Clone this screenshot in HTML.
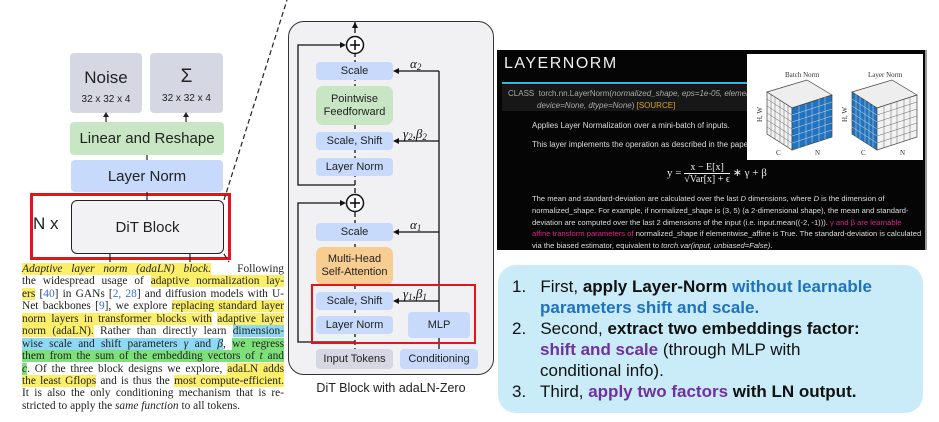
<!DOCTYPE html>
<html><head><meta charset="utf-8"><style>
*{margin:0;padding:0;box-sizing:border-box}
body{width:939px;height:422px;background:#fff;position:relative;overflow:hidden;font-family:"Liberation Sans",sans-serif}
.a{position:absolute}
.bx{position:absolute;display:flex;align-items:center;justify-content:center;text-align:center;border-radius:4px;color:#222}
.para{position:absolute;left:22px;top:263px;width:262px;font-family:"Liberation Serif",serif;font-size:11.4px;line-height:12.45px;color:#222}
.para div{text-align:justify;text-align-last:justify;white-space:nowrap;overflow:visible;height:12.45px}
.para div.last{text-align-last:left}
.y{background:#fbef6a}.b{background:#8fd8f3}.g{background:#7ee07a}.l{color:#3b6fd0}
.list{position:absolute;left:498px;top:265px;width:425px;height:148px;background:#caecf9;border-radius:18px;font-family:"Liberation Sans","Noto Sans CJK KR",sans-serif;font-size:17px;line-height:21px;color:#111;padding:11px 0 0 14px;white-space:nowrap}
.list div{padding-left:28px;text-indent:-28px}
.bl{color:#1f72c0;font-weight:bold}.pu{color:#7030a0;font-weight:bold}
</style></head><body>
<!-- left diagram -->
<div class="bx" style="left:70px;top:53px;width:72px;height:60px;background:#d5d7e3;flex-direction:column"><div style="font-size:17px;margin-top:6px">Noise</div><div style="font-size:10px;margin-top:6px">32 x 32 x 4</div></div>
<div class="bx" style="left:150px;top:53px;width:73px;height:60px;background:#d5d7e3;flex-direction:column"><div style="font-size:19px;margin-top:4px">Σ</div><div style="font-size:10px;margin-top:5px">32 x 32 x 4</div></div>
<div class="bx" style="left:70px;top:122px;width:154px;height:33px;background:#c8e6c4;font-size:15px">Linear and Reshape</div>
<div class="bx" style="left:71px;top:160px;width:152px;height:32px;background:#c7dafb;font-size:15px">Layer Norm</div>
<div class="a" style="left:30px;top:193px;width:201px;height:67px;border:3px solid #e0161c"></div>
<div class="bx" style="left:71px;top:200px;width:153px;height:54px;background:#f2f2f4;border:1.5px solid #222;border-radius:6px;font-size:15px">DiT Block</div>
<div class="a" style="left:33px;top:214px;font-size:17px;color:#222">N x</div>
<svg class="a" style="left:0;top:0" width="939" height="422">
<g stroke="#222" stroke-width="1.2">
<line x1="106" y1="122" x2="106" y2="116"/><line x1="186" y1="122" x2="186" y2="116"/>
<line x1="147" y1="155" x2="147" y2="160"/><line x1="147" y1="192" x2="147" y2="200"/>
<line x1="110" y1="254" x2="110" y2="262"/><line x1="190" y1="254" x2="190" y2="262"/>
<line x1="224" y1="200" x2="287" y2="0" stroke-dasharray="5,3"/>
<line x1="224" y1="254" x2="229" y2="262" stroke-dasharray="5,3"/>
</g>
<polygon points="103,117 109,117 106,112" fill="#222"/><polygon points="183,117 189,117 186,112" fill="#222"/>
</svg>
<div class="para">
<div><i class="y">Adaptive layer norm (adaLN) block.</i> &nbsp;&nbsp;Following</div>
<div>the widespread usage of <span class="y">adaptive normalization lay-</span></div>
<div><span class="y">ers</span> [<span class="l">40</span>] in GANs [<span class="l">2, 28</span>] and diffusion models with U-</div>
<div>Net backbones [<span class="l">9</span>], we explore <span class="y">replacing standard layer</span></div>
<div><span class="y">norm layers in transformer blocks with</span> <span class="y">adaptive layer</span></div>
<div><span class="y">norm (adaLN).</span> Rather than directly learn <span class="b">dimension-</span></div>
<div><span class="b">wise scale and shift parameters <i>γ</i> and <i>β</i></span>, <span class="g">we regress</span></div>
<div><span class="g">them from the sum of the embedding vectors of <i>t</i> and</span></div>
<div><span class="g"><i>c</i></span>. Of the three block designs we explore, <span class="y">adaLN adds</span></div>
<div><span class="y">the least Gflops</span> and is thus the <span class="y">most compute-efficient.</span></div>
<div>It is also the only conditioning mechanism that is re-</div>
<div class="last">stricted to apply the <i>same function</i> to all tokens.</div>
</div>

<!-- middle panel -->
<div class="a" style="left:288px;top:21px;width:206px;height:354px;background:#f1f1f3;border:1.5px solid #333;border-radius:16px"></div>
<svg class="a" style="left:0;top:0" width="939" height="422">
<g stroke="#111" stroke-width="1.3" fill="none">
<line x1="355" y1="369" x2="355" y2="22" stroke-dasharray="5,3"/>
<line x1="439" y1="349" x2="439" y2="71"/>
<line x1="439" y1="71" x2="397" y2="71"/><line x1="439" y1="141" x2="397" y2="141"/>
<line x1="439" y1="232" x2="397" y2="232"/><line x1="439" y1="301" x2="397" y2="301"/>
<polyline points="355,185 298,185 298,45 343,45"/>
<polyline points="355,342 298,342 298,203 343,203"/>
</g>
<g fill="#111">
<polygon points="393,71 399,68 399,74"/><polygon points="393,141 399,138 399,144"/>
<polygon points="393,232 399,229 399,235"/><polygon points="393,301 399,298 399,304"/>
<polygon points="346,45 340,42 340,48"/><polygon points="346,203 340,200 340,206"/>
<polygon points="355,22 352,28 358,28"/>
</g>
<circle cx="355" cy="45" r="8.5" fill="#fff" stroke="#111" stroke-width="1.5"/>
<circle cx="355" cy="203" r="8.5" fill="#fff" stroke="#111" stroke-width="1.5"/>
<g stroke="#111" stroke-width="1.6"><line x1="350" y1="45" x2="360" y2="45"/><line x1="355" y1="40" x2="355" y2="50"/><line x1="350" y1="203" x2="360" y2="203"/><line x1="355" y1="198" x2="355" y2="208"/></g>
<g font-family="Liberation Serif,serif" font-style="italic" font-size="13" fill="#111">
<text x="410" y="68">α<tspan font-size="9" dy="2">2</tspan></text>
<text x="403" y="138">γ<tspan font-size="9" dy="2">2</tspan><tspan dy="-2">,β</tspan><tspan font-size="9" dy="2">2</tspan></text>
<text x="410" y="229">α<tspan font-size="9" dy="2">1</tspan></text>
<text x="403" y="298">γ<tspan font-size="9" dy="2">1</tspan><tspan dy="-2">,β</tspan><tspan font-size="9" dy="2">1</tspan></text>
</g>
</svg>
<div class="bx" style="left:316px;top:62px;width:77px;height:18px;background:#c7dafb;font-size:11px">Scale</div>
<div class="bx" style="left:316px;top:86px;width:77px;height:39px;background:#c8e6c4;font-size:11px;line-height:13px;border-radius:7px">Pointwise<br>Feedforward</div>
<div class="bx" style="left:316px;top:132px;width:77px;height:18px;background:#c7dafb;font-size:11px">Scale, Shift</div>
<div class="bx" style="left:316px;top:158px;width:77px;height:18px;background:#c7dafb;font-size:11px">Layer Norm</div>
<div class="bx" style="left:316px;top:223px;width:77px;height:18px;background:#c7dafb;font-size:11px">Scale</div>
<div class="bx" style="left:316px;top:247px;width:77px;height:38px;background:#f8cd92;font-size:11px;line-height:13px;border-radius:7px">Multi-Head<br>Self-Attention</div>
<div class="bx" style="left:316px;top:292px;width:77px;height:18px;background:#c7dafb;font-size:11px">Scale, Shift</div>
<div class="bx" style="left:316px;top:316px;width:77px;height:18px;background:#c7dafb;font-size:11px">Layer Norm</div>
<div class="bx" style="left:408px;top:312px;width:62px;height:26px;background:#c7dafb;font-size:11px">MLP</div>
<div class="bx" style="left:316px;top:349px;width:77px;height:20px;background:#d5d7e3;font-size:11px">Input Tokens</div>
<div class="bx" style="left:400px;top:349px;width:78px;height:20px;background:#c7dafb;font-size:11px">Conditioning</div>
<div class="a" style="left:311px;top:284px;width:165px;height:60px;border:2.5px solid #e0161c"></div>
<div class="a" style="left:296px;top:381px;width:190px;text-align:center;font-size:12.5px;color:#222">DiT Block with adaLN-Zero</div>

<!-- right top: black doc -->
<div class="a" style="left:497px;top:50px;width:428px;height:200px;background:#050505;color:#ddd;font-size:8px">
<div class="a" style="left:7px;top:5px;font-size:16px;letter-spacing:1.5px;color:#eee">LAYERNORM</div>
<div class="a" style="left:5px;top:32px;width:420px;height:2px;background:#2fb8e0"></div>
<div class="a" style="left:5px;top:35px;width:420px;height:26px;background:#171717"></div>
<div class="a" style="left:11px;top:39px;color:#aaa">CLASS &nbsp;torch.nn.LayerNorm(<i>normalized_shape, eps=1e-05, elementwise</i></div>
<div class="a" style="left:40px;top:51px;color:#aaa"><i>device=None, dtype=None</i>) <span style="color:#d9a520">[SOURCE]</span></div>
<div class="a" style="left:35px;top:71px">Applies Layer Normalization over a mini-batch of inputs.</div>
<div class="a" style="left:35px;top:90px">This layer implements the operation as described in the paper <span style="color:#3fb0e0">Layer</span></div>
<div class="a" style="left:170px;top:112px;font-family:'Liberation Serif',serif;font-size:11px;color:#eee">y = <span style="display:inline-block;text-align:center;vertical-align:middle;font-size:10px"><span style="display:block;border-bottom:1px solid #eee">x − E[x]</span><span style="display:block">√Var[x] + ϵ</span></span> ∗ γ + β</div>
<div class="a" style="left:35px;top:143px;width:390px;line-height:11.8px;font-size:7.6px">The mean and standard-deviation are calculated over the last <i>D</i> dimensions, where <i>D</i> is the dimension of normalized_shape. For example, if normalized_shape is (3, 5) (a 2-dimensional shape), the mean and standard-deviation are computed over the last 2 dimensions of the input (i.e. input.mean((-2, -1))). <span style="color:#e0208a">γ and β are learnable affine transform parameters of</span> normalized_shape if elementwise_affine is True. The standard-deviation is calculated via the biased estimator, equivalent to <i>torch.var(input, unbiased=False)</i>.</div>
</div>
<div class="a" style="left:747px;top:54px;width:176px;height:106px;background:#fff"></div>
<svg class="a" style="left:0;top:0" width="939" height="422">
<g font-family="Liberation Serif,serif" font-size="7" fill="#333">
<text x="785" y="77">Batch Norm</text><text x="868" y="77">Layer Norm</text>
<text x="776" y="155">C</text><text x="815" y="155">N</text><text x="861" y="155">C</text><text x="900" y="155">N</text>
<text x="762" y="122" transform="rotate(-90 762 122)">H, W</text><text x="847" y="122" transform="rotate(-90 847 122)">H, W</text>
</g>
<g stroke="#444" stroke-width="0.7">
<polygon points="767,92 807,80 832,95 792,108" fill="#eee"/>
<polygon points="767,92 792,108 792,150 767,134" fill="#f2f2f2"/>
<polygon points="792,108 832,95 832,137 792,150" fill="#1f73c0"/>
<polygon points="852,92 892,80 917,95 877,108" fill="#eee"/>
<polygon points="852,92 877,108 877,150 852,134" fill="#1f73c0"/>
<polygon points="877,108 917,95 917,137 877,150" fill="#f2f2f2"/>
</g>
<g stroke="#666" stroke-width="0.5">
<line x1="767" y1="99" x2="792" y2="115"/><line x1="767" y1="106" x2="792" y2="122"/><line x1="767" y1="113" x2="792" y2="129"/><line x1="767" y1="120" x2="792" y2="136"/><line x1="767" y1="127" x2="792" y2="143"/>
<line x1="852" y1="99" x2="877" y2="115" stroke="#ddd"/><line x1="852" y1="106" x2="877" y2="122" stroke="#ddd"/><line x1="852" y1="113" x2="877" y2="129" stroke="#ddd"/><line x1="852" y1="120" x2="877" y2="136" stroke="#ddd"/><line x1="852" y1="127" x2="877" y2="143" stroke="#ddd"/>
<line x1="792" y1="115" x2="832" y2="102" stroke="#ddd"/><line x1="792" y1="122" x2="832" y2="109" stroke="#ddd"/><line x1="792" y1="129" x2="832" y2="116" stroke="#ddd"/><line x1="792" y1="136" x2="832" y2="123" stroke="#ddd"/><line x1="792" y1="143" x2="832" y2="130" stroke="#ddd"/>
<line x1="877" y1="115" x2="917" y2="102"/><line x1="877" y1="122" x2="917" y2="109"/><line x1="877" y1="129" x2="917" y2="116"/><line x1="877" y1="136" x2="917" y2="123"/><line x1="877" y1="143" x2="917" y2="130"/>
<line x1="799" y1="106" x2="799" y2="148" stroke="#ddd"/><line x1="806" y1="104" x2="806" y2="146" stroke="#ddd"/><line x1="812" y1="102" x2="812" y2="143" stroke="#ddd"/><line x1="819" y1="99" x2="819" y2="141" stroke="#ddd"/><line x1="825" y1="97" x2="825" y2="139" stroke="#ddd"/>
<line x1="884" y1="106" x2="884" y2="148"/><line x1="891" y1="104" x2="891" y2="146"/><line x1="897" y1="102" x2="897" y2="143"/><line x1="904" y1="99" x2="904" y2="141"/><line x1="910" y1="97" x2="910" y2="139"/>
<line x1="771" y1="94" x2="771" y2="137"/><line x1="775" y1="97" x2="775" y2="139"/><line x1="780" y1="100" x2="780" y2="142"/><line x1="784" y1="103" x2="784" y2="145"/><line x1="788" y1="105" x2="788" y2="147"/>
<line x1="856" y1="94" x2="856" y2="137" stroke="#ddd"/><line x1="860" y1="97" x2="860" y2="139" stroke="#ddd"/><line x1="865" y1="100" x2="865" y2="142" stroke="#ddd"/><line x1="869" y1="103" x2="869" y2="145" stroke="#ddd"/><line x1="873" y1="105" x2="873" y2="147" stroke="#ddd"/>
</g>
</svg>
<div class="a" style="left:925px;top:50px;width:2px;height:200px;background:#999"></div>

<!-- list box -->
<div class="list">
<div>1.&nbsp;&nbsp; First, <b>apply Layer-Norm</b> <span class="bl">without learnable<br>parameters shift and scale.</span></div>
<div>2.&nbsp;&nbsp; Second, <b>extract two embeddings factor:</b><br><span class="pu">shift and scale</span> (through MLP with<br>conditional info).</div>
<div>3.&nbsp;&nbsp; Third, <span class="pu">apply two factors</span> <b>with LN output.</b></div>
</div>
</body></html>
